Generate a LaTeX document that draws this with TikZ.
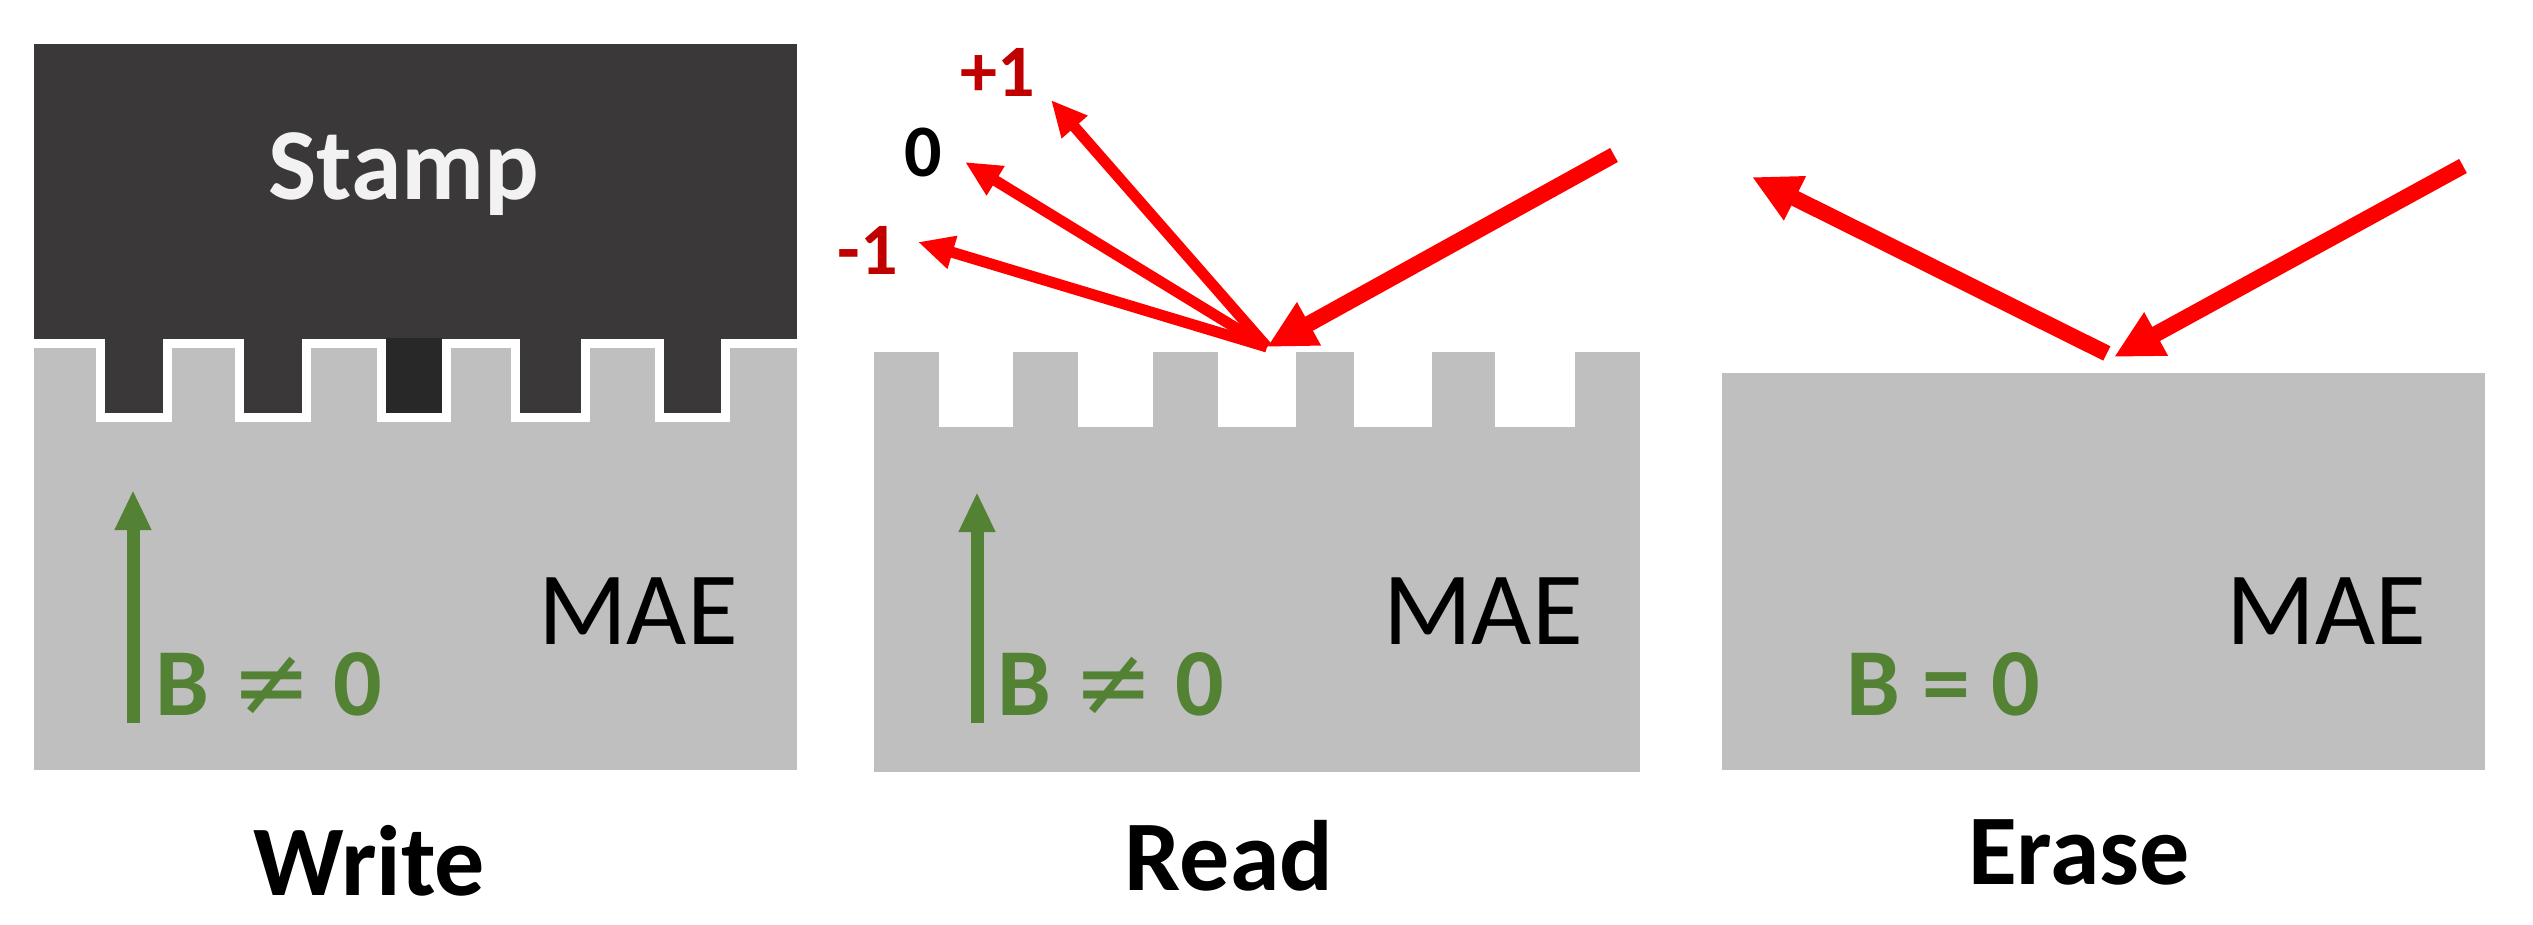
\documentclass[tikz,border=0pt]{standalone}
\usepackage{fontspec}
\setmainfont{Carlito}
\newfontfamily\djv{DejaVu Sans}
\usetikzlibrary{arrows.meta}
\definecolor{mgray}{HTML}{BFBFBF}
\definecolor{stampc}{HTML}{3A3838}
\definecolor{stampd}{HTML}{282828}
\definecolor{mgreen}{HTML}{548235}
\definecolor{dred}{HTML}{C00000}
\begin{document}
\begin{tikzpicture}[x=1pt,y=-1pt,
  lab/.style={font=\fontsize{100}{100}\selectfont\bfseries,text=black},
  mae/.style={font=\fontsize{104}{104}\selectfont,text=black},
  bfield/.style={font=\fontsize{96}{96}\selectfont\bfseries,text=mgreen,anchor=west},
  barrow/.style={draw=mgreen,line width=13pt,-{Triangle[length=40pt,width=34pt]}},
  ray/.style={draw=red,line width=16pt,-{Triangle[length=48pt,width=46pt]}},
  thinray/.style={draw=red,line width=11pt,-{Triangle[length=36pt,width=32pt]}},
  num/.style={font=\fontsize{74}{74}\selectfont\bfseries}]
\useasboundingbox (0,0) rectangle (2533,925);
\fill[white] (0,0) rectangle (2533,925);
% ---- Write
\fill[mgray] (34,348) rectangle (797,770);
\draw[white,line width=9pt,line join=miter] (34,343.5)
  \foreach \a/\b in {105/163,244/302,386/442,520/581,664/721}{
   -- (\a-4.5,343.5) -- (\a-4.5,417.5) -- (\b+4.5,417.5) -- (\b+4.5,343.5)} -- (797,343.5);
\fill[stampc] (34,44) rectangle (797,339);
\foreach \a/\b in {105/163,244/302,520/581,664/721}{\fill[stampc] (\a,338) rectangle (\b,413);}
\fill[stampd] (386,338) rectangle (442,413);
\node[font=\fontsize{102}{102}\selectfont\bfseries,text=white!95!black] (stamp) at (404,174) {Stamp};
\coordinate (wb1) at (133,723); \coordinate (wb2) at (133,490);
\draw[barrow] (wb1) -- (wb2);
\node[bfield] (wB) at (152,684) {B {\djv\mdseries ≠} 0};
\node[mae] (wM) at (638,611) {MAE};
\node[lab] (write) at (369,861) {Write};
% ---- Read
\fill[mgray] (874,352) rectangle (1640,772);
\foreach \a/\b in {939/1013,1078/1153,1218/1296,1354/1432,1495/1575}{\fill[white] (\a,351) rectangle (\b,427);}
\coordinate (rb1) at (977,723); \coordinate (rb2) at (977,492);
\draw[barrow] (rb1) -- (rb2);
\node[bfield] (rB) at (994,684) {B {\djv\mdseries ≠} 0};
\node[mae] (rM) at (1483,611) {MAE};
\node[lab] (read) at (1229,856) {Read};
\coordinate (rp) at (1267,347);
\coordinate (rin) at (1614,155);
\coordinate (rp1) at (1051,100);
\coordinate (r0) at (965,162);
\coordinate (rm1) at (918,242);
\draw[ray] (rin) -- (rp);
\draw[thinray] (rp) -- (rp1);
\draw[thinray] (rp) -- (r0);
\draw[thinray] (rp) -- (rm1);
\node[num,text=dred] (lp1) at (998,72) {+1};
\node[num,text=black] (l0) at (923,152) {0};
\node[num,text=dred] (lm1) at (868,250) {-1};
% ---- Erase
\fill[mgray] (1722,373) rectangle (2485,770);
\node[bfield] (eB) at (1843,684) {B = 0};
\node[mae] (eM) at (2326,611) {MAE};
\node[lab] (erase) at (2079,852) {Erase};
\coordinate (ep) at (2114,357);
\coordinate (ein) at (2463,166);
\coordinate (eout) at (1752,177);
\draw[ray] (ein) -- (ep);
\draw[ray,shorten <=8pt] (ep) -- (eout);
\end{tikzpicture}
\end{document}
